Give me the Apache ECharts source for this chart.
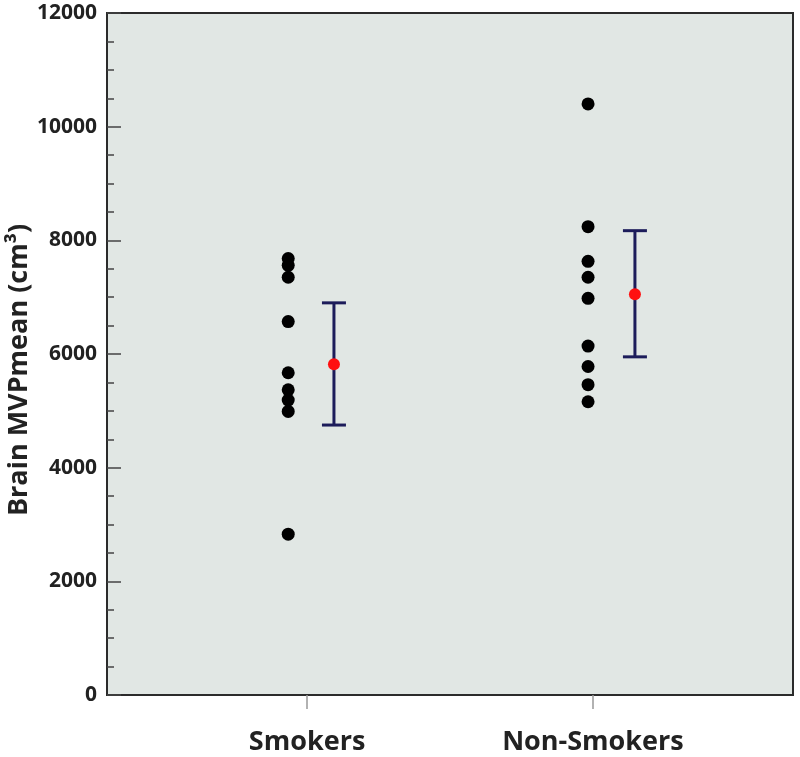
<!DOCTYPE html>
<html lang="en">
<head>
    <meta charset="UTF-8">
    <title>Brain MVPmean</title>
    <script type="text/javascript" src="https://cdn.jsdelivr.net/npm/echarts@6/dist/echarts.min.js"></script>
    <style>
        body{
            padding: 0px;
            margin: 0px;
            background-color: #ffffff;
        }
        #chart{
            width: 800px;
            height: 757px;
        }
    </style>
</head>
<body>
    <div id="chart"></div>
    <script>
        // groups and values
        var categories = ['Smokers', 'Non-Smokers'];
        var smokers = [7680, 7560, 7350, 6570, 5670, 5370, 5190, 4990, 2830];
        var nonSmokers = [10400, 8240, 7630, 7350, 6980, 6140, 5780, 5460, 5160];
        var means = [5820, 7050];
        var errLow = [4750, 5950];
        var errHigh = [6900, 8170];
        var yTicks = [0, 2000, 4000, 6000, 8000, 10000, 12000];

        var groups = [smokers, nonSmokers];
        var dotX = [0.934, 1.983];
        var barX = [1.094, 2.147];

        var dots = [];
        groups.forEach(function (g, i) {
            g.forEach(function (v) { dots.push([dotX[i], v]); });
        });
        var meanPts = means.map(function (m, i) { return [barX[i], m]; });
        var errPts = means.map(function (m, i) { return [barX[i], errLow[i], errHigh[i]]; });

        var font = '"Open Sans", sans-serif';
        var chart = echarts.init(document.getElementById('chart'));

        chart.setOption({
            animation: false,
            grid: {
                left: 107, right: 7, top: 13, bottom: 62,
                outerBoundsMode: 'none',
                containLabel: false,
                show: true,
                backgroundColor: '#e1e7e4',
                borderColor: '#2b2b2b',
                borderWidth: 2
            },
            xAxis: {
                type: 'value',
                min: 0.3,
                max: 2.7,
                splitLine: {show: false},
                axisLine: {show: true, onZero: false, lineStyle: {color: '#2b2b2b', width: 2}},
                axisTick: {
                    show: true,
                    customValues: [1, 2],
                    length: 14,
                    lineStyle: {color: '#999', width: 1.5}
                },
                axisLabel: {
                    customValues: [1, 2],
                    margin: 34,
                    fontSize: 27,
                    fontWeight: 'bold',
                    fontFamily: font,
                    color: '#222',
                    formatter: function (v) { return categories[Math.round(v) - 1]; }
                }
            },
            yAxis: {
                type: 'value',
                min: yTicks[0],
                max: yTicks[yTicks.length - 1],
                interval: 2000,
                name: 'Brain MVPmean (cm³)',
                nameLocation: 'middle',
                nameGap: 74,
                nameMoveOverlap: false,
                nameTextStyle: {
                    fontSize: 27, fontWeight: 'bold', fontFamily: font, color: '#222',
                    padding: [0, 32, 0, 0]
                },
                splitLine: {show: false},
                axisLine: {show: true, lineStyle: {color: '#2b2b2b', width: 2}},
                axisTick: {inside: true, length: 14, lineStyle: {color: '#444', width: 1.5}},
                minorTick: {show: true, splitNumber: 4, length: 7, lineStyle: {color: '#444', width: 1.5}},
                axisLabel: {
                    margin: 10,
                    fontSize: 21,
                    fontWeight: 'bold',
                    fontFamily: font,
                    color: '#222',
                    formatter: function (v) { return String(v); }
                }
            },
            series: [
                {
                    type: 'scatter',
                    data: dots,
                    symbolSize: 13,
                    itemStyle: {color: '#000', opacity: 1}
                },
                {
                    type: 'custom',
                    data: errPts,
                    z: 3,
                    renderItem: function (params, api) {
                        var x = api.value(0);
                        var lo = api.coord([x, api.value(1)]);
                        var hi = api.coord([x, api.value(2)]);
                        var w = 12;
                        var st = {stroke: '#1c1c5a', lineWidth: 3};
                        return {
                            type: 'group',
                            children: [
                                {type: 'line', shape: {x1: lo[0], y1: lo[1], x2: hi[0], y2: hi[1]}, style: st},
                                {type: 'line', shape: {x1: lo[0] - w, y1: lo[1], x2: lo[0] + w, y2: lo[1]}, style: st},
                                {type: 'line', shape: {x1: hi[0] - w, y1: hi[1], x2: hi[0] + w, y2: hi[1]}, style: st}
                            ]
                        };
                    }
                },
                {
                    type: 'scatter',
                    data: meanPts,
                    symbolSize: 12,
                    z: 5,
                    itemStyle: {color: '#ff1010', opacity: 1}
                }
            ]
        });
    </script>
</body>
</html>
